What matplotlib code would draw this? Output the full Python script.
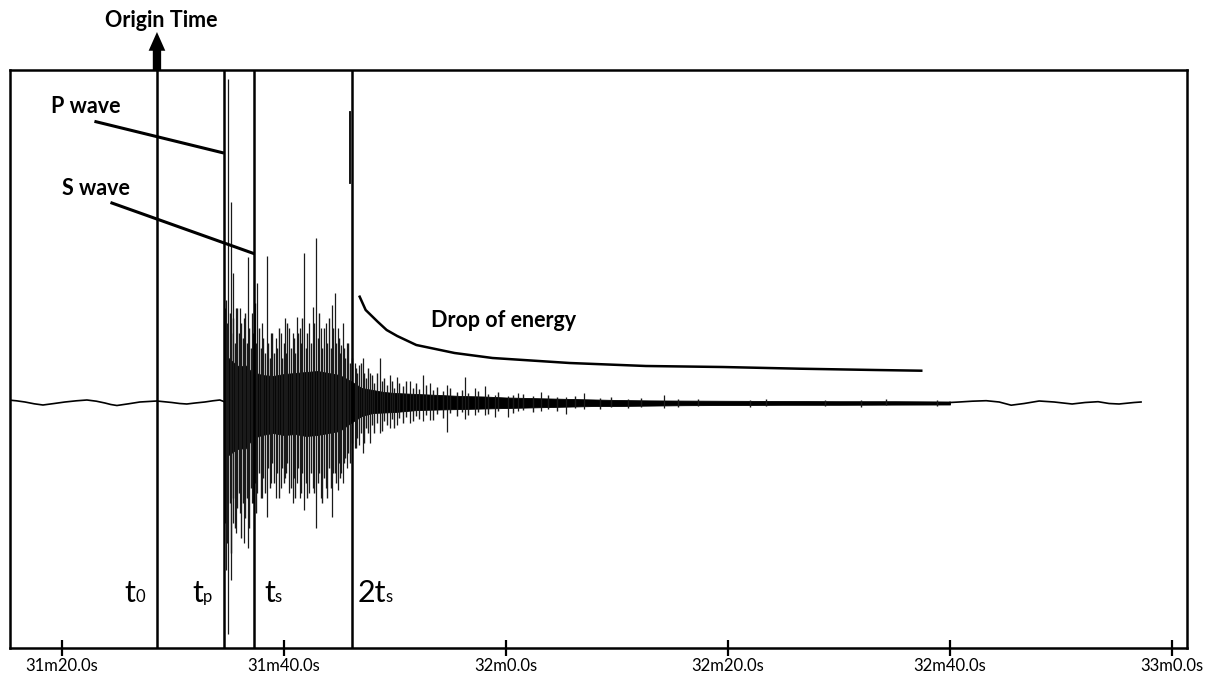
import numpy as np
import matplotlib.pyplot as plt

plt.rcParams['font.family'] = ['Lato', 'DejaVu Sans']

# time axis in seconds after 31m00s, amplitude in arbitrary counts
tick_secs = [20, 40, 60, 80, 100, 120]
tick_labels = ['31m20.0s', '31m40.0s', '32m0.0s', '32m20.0s', '32m40.0s', '33m0.0s']

# picks
t0, tp, ts, t2s = 28.56, 34.59, 37.30, 46.13

# quiet noise before the P arrival
pre_t = [15.14, 15.9, 16.67, 17.5, 18.29, 19.3, 20.27, 21.3, 22.25, 23.1, 23.87, 24.4, 24.95,
         26.0, 27.02, 28.55, 29.90, 30.6, 31.25, 32.0, 32.87, 33.6, 34.22, 34.58]
pre_a = [3, 2.2, 1, -0.8, -2, -0.5, 1, 2.2, 3, 1.8, 0, -1.5, -2.5, -0.8, 1, 2, 0.5, -0.5, -1,
         0, 1, 2.2, 3, 1.5]

# quiet noise at the end of the record
post_t = [100.0, 100.83, 102.0, 103.26, 104.43, 105.51, 106.68, 108.03, 109.38, 111.0, 112.17,
          113.34, 114.33, 115.23, 116.58, 117.21]
post_a = [0.5, 1, 1.8, 2.3, 1, -2.2, -0.5, 2, 1, -1, 0.5, 1.3, -0.5, -1, 0.5, 1]

# envelope of the dense (solid black) part of the trace
env_t = [34.60, 34.65, 35.0, 35.5, 36.0, 36.5, 37.0, 37.5, 38.0, 39.0, 40.0, 41.0, 42.0, 43.0,
         44.0, 45.0, 46.0, 47.0, 48.0, 49.0, 50.0, 52.0, 54.0, 56.0, 58.0, 60.0, 62.0, 64.0,
         66.0, 68.0, 70.0, 73.0, 76.0, 80.0, 85.0, 90.0, 95.0, 100.0]
env_hi = [1.5, 38, 45, 40, 36, 38, 32, 30, 28, 27, 29, 30, 31, 32, 30, 28, 22, 15, 13, 11, 10,
          9, 8, 7, 6.5, 5.5, 5, 4.5, 4, 3.5, 3, 2.6, 2.4, 2.2, 2, 1.8, 1.8, 1.5]
env_lo = [1.5, -42, -52, -48, -45, -46, -38, -34, -32, -30, -32, -31, -33, -32, -30, -28, -20,
          -13, -10, -9.5, -9, -7, -6.5, -6, -5.5, -5, -4.5, -4, -3.5, -3, -3, -2.6, -2.2, -2,
          -1.8, -1.8, -1.6, -1.5]

# large individual peaks
spk_t = [34.82, 35.00, 35.27, 35.39, 35.66, 36.02, 36.38, 36.74, 37.10, 37.61, 38.00, 38.43,
         38.81, 39.26, 39.71, 40.07, 40.43, 40.79, 41.13, 41.42, 41.78, 42.23, 42.59, 42.93,
         43.31, 43.76, 44.30, 44.57, 44.84, 45.18, 45.29, 45.65, 46.37, 46.73, 47.09, 47.72,
         48.62, 49.52, 50.15, 51.32, 52.49, 53.12, 54.65, 56.27, 57.17, 58.07, 58.97, 60.14,
         61.04, 63.20, 65.45, 67.07, 74.27]
spk_hi = [103, 324, 201, 130, 95, 95, 85, 146, 90, 120, 80, 147, 70, 65, 70, 85, 75, 70, 86,
          75, 150, 80, 96, 165, 75, 80, 98, 110, 75, 58, 80, 60, 40, 38, 45, 30, 45, 28, 26,
          22, 28, 20, 18, 26, 15, 17, 8, 7, 10, 11, 6, 10, 8]
spk_lo = [-167, -231, -177, -120, -130, -110, -140, -145, -100, -90, -95, -114, -80, -95, -85,
          -75, -90, -100, -80, -95, -107, -90, -85, -125, -95, -85, -114, -70, -87, -70, -80,
          -65, -45, -42, -50, -40, -30, -25, -22, -20, -18, -17, -29, -16, -12, -12, -14, -14,
          -8, -8, -11, -6, -5]

# smaller peaks forming the ragged edge of the trace
fine_t = [34.70, 34.90, 35.10, 35.20, 35.45, 35.60, 35.80, 35.95, 36.15, 36.30, 36.50, 36.65,
          36.85, 37.00, 37.20, 37.40, 37.50, 37.75, 37.90, 38.10, 38.25, 38.55, 38.70, 38.95,
          39.10, 39.40, 39.55, 39.85, 40.00, 40.20, 40.30, 40.60, 40.90, 41.00, 41.25, 41.55,
          41.65, 41.95, 42.10, 42.40, 42.75, 43.05, 43.15, 43.45, 43.60, 43.90, 44.05, 44.20,
          44.45, 44.70, 44.95, 45.05, 45.40, 45.50, 45.80, 45.95, 46.15, 46.50, 46.60, 46.90,
          47.20, 47.40, 47.60, 47.90, 48.10, 48.35, 48.80, 49.00, 49.30, 49.70, 49.90, 50.40,
          50.70, 51.00, 51.60, 51.90, 52.20, 52.80, 53.40, 53.80, 54.30, 55.00, 55.60, 56.00,
          56.60, 57.50, 58.40, 59.30, 60.60, 61.50, 62.40, 63.80, 64.60, 66.20, 68.50, 69.50,
          71.00, 72.20, 75.50, 77.30, 82.00, 83.40, 88.70, 92.00, 94.20, 98.80]
fine_hi = [95, 80, 90, 70, 85, 60, 95, 70, 80, 65, 90, 60, 75, 55, 70, 100, 60, 75, 55, 65, 50,
           60, 45, 70, 50, 55, 75, 45, 60, 50, 80, 55, 65, 50, 70, 60, 85, 55, 70, 60, 80, 65,
           90, 55, 75, 60, 85, 55, 75, 60, 65, 50, 55, 45, 60, 40, 45, 35, 30, 40, 30, 25, 35,
           28, 20, 30, 22, 25, 18, 22, 15, 20, 17, 22, 15, 20, 14, 18, 13, 16, 12, 15, 11, 13,
           10, 12, 9, 11, 8, 9, 7, 8, 6, 7, 5, 6, 4, 5, 4, 4.5, 3, 4, 3.5, 3, 4, 3]
fine_lo = [-120, -140, -100, -150, -95, -125, -105, -90, -135, -100, -115, -95, -125, -85,
           -100, -80, -110, -70, -95, -75, -90, -65, -85, -60, -80, -70, -95, -65, -80, -70,
           -60, -85, -75, -95, -65, -90, -70, -80, -95, -70, -90, -80, -70, -100, -75, -95,
           -65, -85, -70, -80, -60, -75, -60, -55, -50, -60, -40, -45, -35, -30, -40, -25, -30,
           -22, -30, -20, -28, -18, -22, -16, -25, -15, -20, -14, -18, -13, -16, -12, -17, -11,
           -15, -10, -13, -9, -12, -9, -11, -8, -10, -7, -9, -6, -8, -5, -6, -4, -5, -4, -4,
           -3, -4, -3, -3, -3.5, -2, -3]

# hand-drawn "drop of energy" curve
drop_t = [46.82, 47.36, 48.44, 49.25, 50.20, 51.92, 55.37, 58.79, 65.73, 72.61, 79.50, 86.43,
          93.27, 97.41]
drop_a = [106.3, 93, 81.3, 73, 67, 58, 50, 45, 40, 37, 36, 34.3, 33, 32.3]

fig = plt.figure(figsize=(12.05, 6.79), dpi=100)
ax = fig.add_axes([10 / 1205, 31 / 679, 1177 / 1205, 578 / 679])
ax.set_xlim(15.32, 121.35)
ax.set_ylim(-245, 333)

# seismogram
ax.fill_between(env_t, env_lo, env_hi, color='black', lw=0.6)
ax.vlines(fine_t, fine_lo, fine_hi, color='#1a1a1a', lw=1.0)
ax.vlines(spk_t, spk_lo, spk_hi, color='#1a1a1a', lw=0.9)
ax.plot(pre_t, pre_a, color='black', lw=1.2)
ax.plot(post_t, post_a, color='black', lw=1.2)

# picks
for t in [t0, tp, ts, t2s]:
    ax.axvline(t, color='black', lw=1.8)
ax.plot([45.99, 45.99], [220.5, 291], color='black', lw=1.3)

# pick labels: big letter plus small subscript
for main, sub, tx in [('t', '0', 26.62), ('t', 'p', 32.69), ('t', 's', 39.17), ('2t', 's', 49.16)]:
    ax.text(tx, -198.7, main, ha='right', va='baseline', fontsize=22)
    ax.text(tx, -198.7, sub, ha='left', va='baseline', fontsize=12)

# annotations
bold = dict(fontsize=15.5, fontweight='bold', va='baseline', ha='left')
ax.text(19.01, 290.3, 'P wave', **bold)
ax.text(20.03, 208, 'S wave', **bold)
ax.text(53.21, 76.3, 'Drop of energy', **bold)
ax.text(23.87, 375.7, 'Origin Time', clip_on=False, **bold)
ax.plot([23.06, 34.46], [281.3, 250.3], color='black', lw=2.2)
ax.plot([24.50, 37.22], [200, 149.7], color='black', lw=2.2)
ax.plot(drop_t, drop_a, color='black', lw=1.8)
ax.annotate('', xy=(t0, 371), xytext=(t0, 333), annotation_clip=False,
            arrowprops=dict(arrowstyle='simple,head_length=1.35,head_width=1.2,tail_width=0.6',
                            mutation_scale=10, color='black', lw=0, shrinkA=0, shrinkB=0))

ax.set_xticks(tick_secs)
ax.set_xticklabels(tick_labels)
ax.set_yticks([])
ax.tick_params(axis='x', direction='inout', length=11, width=1.6, labelsize=12, pad=2)
for s in ax.spines.values():
    s.set_linewidth(1.8)

fig.savefig('out.png', dpi=100)
